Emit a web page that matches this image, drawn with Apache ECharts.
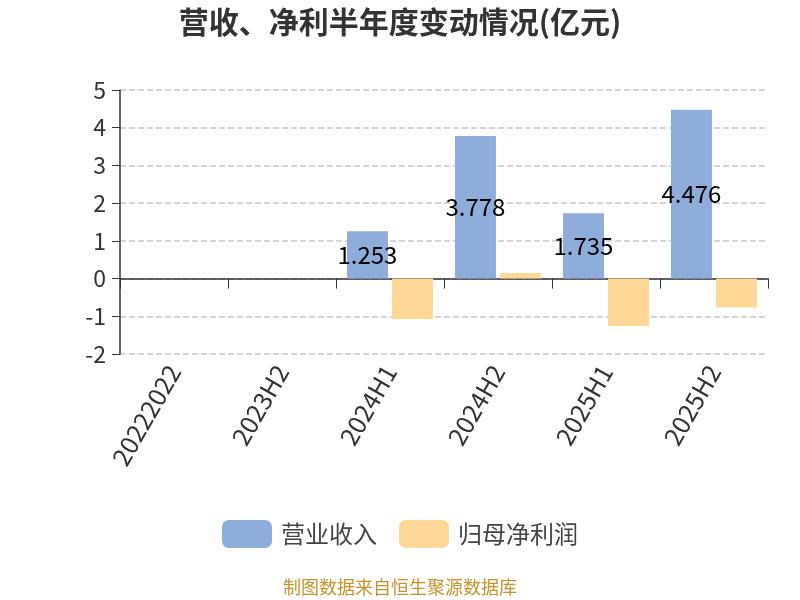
<!DOCTYPE html>
<html>
<head>
<meta charset="utf-8">
<script src="https://cdn.jsdelivr.net/npm/echarts@6/dist/echarts.min.js"></script>
<style>html,body{margin:0;padding:0;background:#fff}#main{width:800px;height:600px}</style>
</head>
<body>
<div id="main"></div>
<script>
var categories = ['20222022', '2023H2', '2024H1', '2024H2', '2025H1', '2025H2'];
var revenue = [null, null, 1.253, 3.778, 1.735, 4.476];
var netProfit = [null, null, -1.07, 0.15, -1.26, -0.77];
var yTicks = { min: -2, max: 5, interval: 1 };

var FONT = '"Noto Sans CJK SC", "Noto Sans", sans-serif';
var chart = echarts.init(document.getElementById('main'));
chart.setOption({
  backgroundColor: '#fff',
  textStyle: { fontFamily: FONT },
  title: {
    text: '营收、净利半年度变动情况(亿元)',
    left: 'center', top: 2,
    textStyle: { fontSize: 30, fontWeight: 'bold', color: '#333', fontFamily: FONT }
  },
  legend: {
    bottom: 47, left: 'center',
    itemWidth: 50, itemHeight: 28, itemGap: 22,
    textStyle: { fontSize: 24, color: '#444', fontFamily: FONT, padding: [0, 0, 0, 4] },
    data: ['营业收入', '归母净利润']
  },
  graphic: [{
    type: 'text', left: 'center', top: 578,
    style: { text: '制图数据来自恒生聚源数据库', fill: '#c9912a', fontSize: 18, fontFamily: FONT }
  }],
  grid: { left: 120, right: 32, top: 90, bottom: 246 },
  xAxis: {
    type: 'category',
    data: categories,
    axisLine: { onZero: true, lineStyle: { color: '#333', width: 1.5 } },
    axisTick: { show: true, length: 10, lineStyle: { color: '#333' } },
    axisLabel: { rotate: 60, margin: 13, fontSize: 25, color: '#333', fontFamily: FONT, interval: 0 }
  },
  yAxis: {
    type: 'value',
    min: yTicks.min, max: yTicks.max, interval: yTicks.interval,
    axisLine: { show: true, lineStyle: { color: '#333', width: 1.5 } },
    axisTick: { show: true, length: 8, lineStyle: { color: '#333' } },
    axisLabel: { fontSize: 23, color: '#333', margin: 14, fontFamily: FONT },
    splitLine: { lineStyle: { type: 'dashed', color: '#c8c8c8', width: 1.5 } }
  },
  series: [{
    name: '营业收入', type: 'bar', data: revenue,
    barWidth: 41, barGap: '10%',
    itemStyle: { color: '#8eaddb' },
    label: { show: true, position: 'inside', color: '#000', fontSize: 24, fontFamily: FONT }
  }, {
    name: '归母净利润', type: 'bar', data: netProfit,
    barWidth: 41,
    itemStyle: { color: '#ffd898' }
  }]
});
</script>
</body>
</html>
